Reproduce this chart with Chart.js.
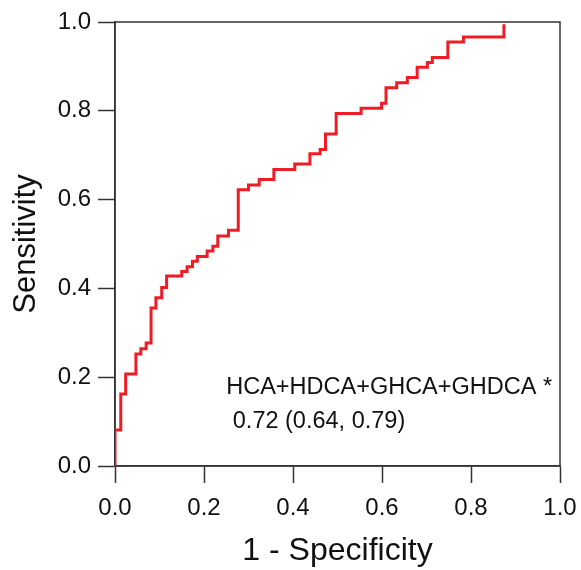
<!DOCTYPE html>
<html>
<head>
<meta charset="utf-8">
<script src="https://cdn.jsdelivr.net/npm/chart.js@4/dist/chart.umd.min.js"></script>
<style>
  html, body { margin: 0; padding: 0; background: #fff; }
  #wrap { width: 581px; height: 570px; }
</style>
</head>
<body>
<div id="wrap"><canvas id="rocChart" width="581" height="570"></canvas></div>
<script>
// ROC curve points (false positive rate, true positive rate)
var fpr = [0, 0, 0.013, 0.024, 0.047, 0.058, 0.070, 0.081, 0.092, 0.105, 0.116,
  0.150, 0.162, 0.174, 0.185, 0.207, 0.220, 0.231, 0.255, 0.277, 0.300,
  0.324, 0.357, 0.404, 0.438, 0.461, 0.473, 0.497, 0.553, 0.599, 0.609,
  0.633, 0.657, 0.679, 0.702, 0.713, 0.748, 0.783, 0.874];
var tpr = [0, 0.081, 0.162, 0.207, 0.252, 0.264, 0.277, 0.356, 0.379, 0.402, 0.428,
  0.438, 0.449, 0.461, 0.472, 0.484, 0.495, 0.518, 0.531, 0.622, 0.633,
  0.645, 0.668, 0.680, 0.703, 0.713, 0.748, 0.794, 0.806, 0.817, 0.852,
  0.863, 0.875, 0.898, 0.909, 0.920, 0.955, 0.966, 0.995];
var tickValues = [0, 0.2, 0.4, 0.6, 0.8, 1.0];
var labelLines = ["HCA+HDCA+GHCA+GHDCA *", " 0.72 (0.64, 0.79)"];
var labelX = 0.25;
var labelY = [0.176, 0.100];

var points = fpr.map(function (x, i) { return { x: x, y: tpr[i] }; });
var fontFam = "'Liberation Sans', Arial, Helvetica, sans-serif";
var axisColor = "#333333";

// box around the plot area + the AUC label
var framePlugin = {
  id: "frame",
  beforeDatasetsDraw: function (chart) {
    var a = chart.chartArea, ctx = chart.ctx;
    ctx.save();
    ctx.strokeStyle = axisColor;
    ctx.lineWidth = 1.5;
    ctx.strokeRect(a.left, a.top, a.right - a.left, a.bottom - a.top);
    ctx.restore();
  },
  afterDatasetsDraw: function (chart) {
    var ctx = chart.ctx;
    var xs = chart.scales.x, ys = chart.scales.y;
    ctx.save();
    ctx.fillStyle = "#111";
    ctx.font = "23.5px " + fontFam;
    ctx.textAlign = "left";
    ctx.textBaseline = "middle";
    labelLines.forEach(function (t, i) {
      ctx.fillText(t, xs.getPixelForValue(labelX), ys.getPixelForValue(labelY[i]));
    });
    ctx.restore();
  }
};

var ctx = document.getElementById("rocChart").getContext("2d");
var rocChart = new Chart(ctx, {
  type: "line",
  data: {
    datasets: [{
      data: points,
      borderColor: "#ee1c25",
      borderWidth: 3,
      pointRadius: 0,
      fill: false,
      stepped: "before",
      tension: 0
    }]
  },
  options: {
    responsive: false,
    animation: false,
    layout: { padding: { top: 22, right: 21, left: 0, bottom: 0 } },
    plugins: { legend: { display: false }, tooltip: { enabled: false } },
    scales: {
      x: {
        type: "linear",
        min: 0, max: 1,
        afterFit: function (s) { s.height = 104; s.paddingLeft = 0; s.paddingRight = 0; },
        afterBuildTicks: function (s) { s.ticks = tickValues.map(function (v) { return { value: v }; }); },
        ticks: {
          color: "#111",
          font: { family: fontFam, size: 24 },
          padding: 11,
          maxRotation: 0,
          callback: function (v) { return v.toFixed(1); }
        },
        grid: { drawOnChartArea: false, drawTicks: true, tickLength: 17, tickColor: axisColor, tickWidth: 1.5 },
        border: { display: true, color: axisColor, width: 1.5 },
        title: {
          display: true,
          text: "1 - Specificity",
          color: "#111",
          font: { family: fontFam, size: 32 },
          padding: { top: 0, bottom: 0 }
        }
      },
      y: {
        type: "linear",
        min: 0, max: 1,
        afterFit: function (s) { s.width = 115; s.paddingTop = 0; s.paddingBottom = 0; },
        afterBuildTicks: function (s) { s.ticks = tickValues.map(function (v) { return { value: v }; }); },
        ticks: {
          color: "#111",
          font: { family: fontFam, size: 24 },
          padding: 7,
          callback: function (v) { return v.toFixed(1); }
        },
        grid: { drawOnChartArea: false, drawTicks: true, tickLength: 17, tickColor: axisColor, tickWidth: 1.5 },
        border: { display: true, color: axisColor, width: 1.5 },
        title: {
          display: true,
          text: "Sensitivity",
          color: "#111",
          font: { family: fontFam, size: 31 },
          padding: { top: 8, bottom: 0 }
        }
      }
    }
  },
  plugins: [framePlugin]
});
</script>
</body>
</html>
